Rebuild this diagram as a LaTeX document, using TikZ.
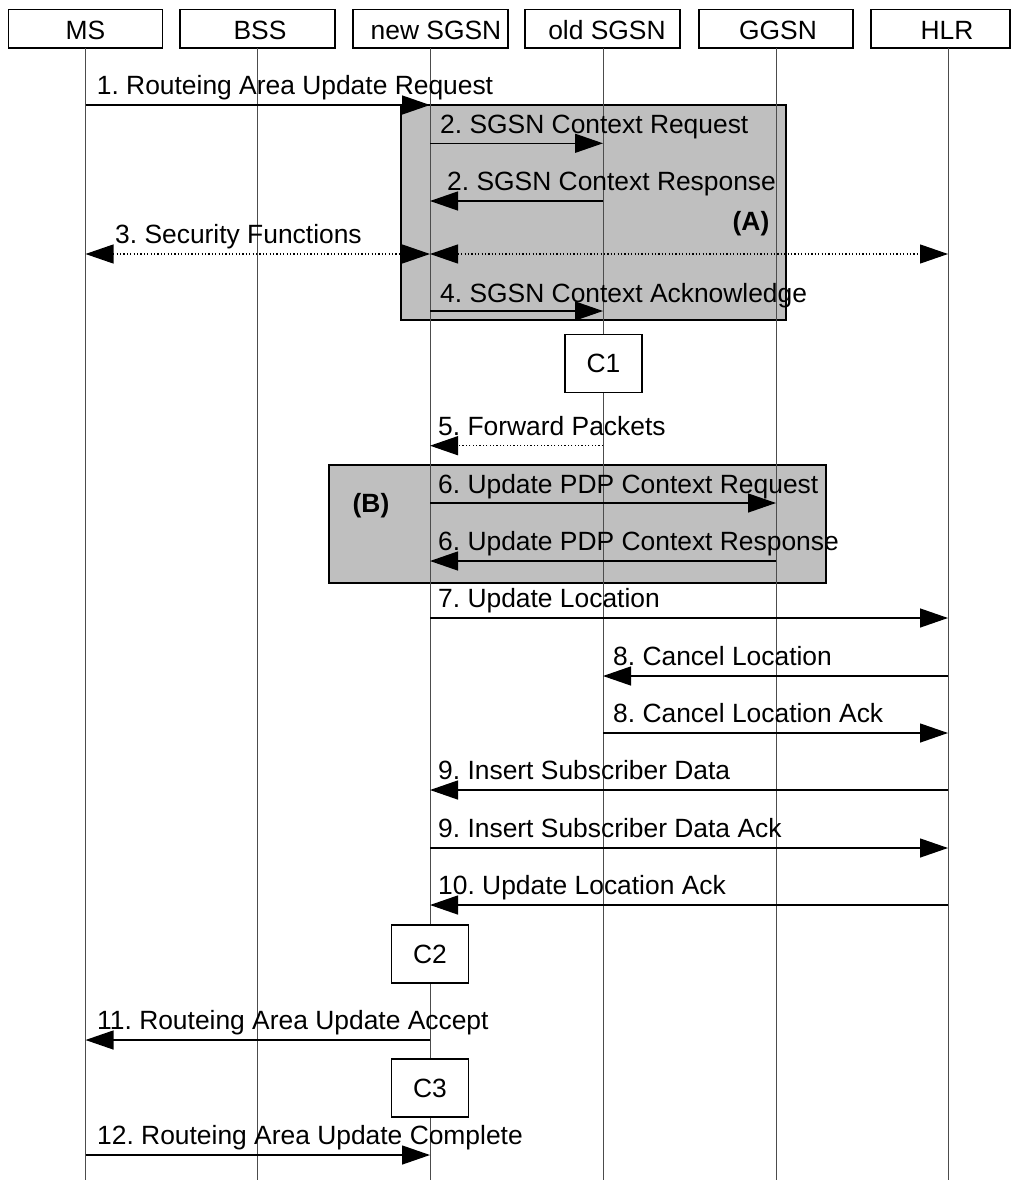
\documentclass[tikz,border=0pt]{standalone}
\usepackage{fontspec}
\setmainfont{Liberation Sans}
\usetikzlibrary{arrows.meta}
\frenchspacing
\newcommand\seqmsg[5]{%
  \draw[#1] (#2 |- 0,#4) -- (#3 |- 0,#4);}
\begin{document}
\begin{tikzpicture}[x=1pt,y=-1pt,
  font=\fontsize{26.4}{30}\selectfont,
  hdr/.style={draw,line width=1.3pt,minimum height=38.7pt,inner sep=0pt},
  hdrtext/.style={anchor=base,inner sep=0pt},
  life/.style={line width=1pt,draw=black!70},
  tip/.tip={Triangle[length=28pt,width=19pt]},
  msgline/.style={line width=1.3pt,-tip},
  dotboth/.style={line width=1.2pt,dash pattern=on 1.2pt off 2.2pt,tip-tip},
  dotone/.style={line width=1.2pt,dash pattern=on 1.2pt off 2.2pt,-tip},
  lbl/.style={anchor=base west,inner sep=0pt},
  grp/.style={draw,line width=1.5pt,fill=black!25,inner sep=0pt},
  cbox/.style={draw,fill=white,line width=1.3pt,minimum width=77pt,minimum height=58pt,inner sep=0pt}
]
\useasboundingbox (0,0) rectangle (1013,1180);
\fill[white] (0,0) rectangle (1013,1180);

% lifeline coordinates
\coordinate (lMS) at (85.5,48);
\coordinate (lBSS) at (257.5,48);
\coordinate (lNEW) at (430,48);
\coordinate (lOLD) at (603,48);
\coordinate (lGG) at (776,48);
\coordinate (lHLR) at (948,48);

% header boxes
\node[hdr,minimum width=154pt] (hMS) at (85.5,28.7) {};
\node[hdr,minimum width=155pt] (hBSS) at (257.5,28.7) {};
\node[hdr,minimum width=155pt] (hNEW) at (430.5,28.7) {};
\node[hdr,minimum width=155pt] (hOLD) at (602.5,28.7) {};
\node[hdr,minimum width=154pt] (hGG) at (776,28.7) {};
\node[hdr,minimum width=139pt] (hHLR) at (940.5,28.7) {};
\node[hdrtext] (tMS) at (85.5,39.3) {MS};
\node[hdrtext] (tBSS) at (260,39.3) {BSS};
\node[hdrtext] (tNEW) at (436,39.3) {new SGSN};
\node[hdrtext] (tOLD) at (607,39.3) {old SGSN};
\node[hdrtext] (tGG) at (778,39.3) {GGSN};
\node[hdrtext] (tHLR) at (947,39.3) {HLR};

% group boxes
\node[grp,minimum width=385pt,minimum height=215pt] (grpA) at (593.5,212.5) {};
\node[grp,minimum width=497pt,minimum height=118pt] (grpB) at (577.5,524) {};
\node[anchor=center,inner sep=0pt,font=\fontsize{26.4}{30}\selectfont\bfseries] (labA) at (751,224) {(A)};
\node[anchor=center,inner sep=0pt,font=\fontsize{26.4}{30}\selectfont\bfseries] (labB) at (371,506) {(B)};

% lifelines
\foreach \l in {lMS,lBSS,lNEW,lOLD,lGG,lHLR}
  \draw[life] (\l) -- (\l |- 0,1180);

% condition boxes
\node[cbox] (C1) at (603.5,363.5) {C1};
\node[cbox] (C2) at (430,954) {C2};
\node[cbox] (C3) at (430,1088) {C3};

% messages
\seqmsg{msgline}{lMS}{lNEW}{105}{}
\node[lbl] (m1) at (96.7,95) {1. Routeing Area Update Request};
\seqmsg{msgline}{lNEW}{lOLD}{143.3}{}
\node[lbl] (m2) at (440,133) {2. SGSN Context Request};
\seqmsg{msgline}{lOLD}{lNEW}{201}{}
\node[lbl] (m2r) at (447,190) {2. SGSN Context Response};
\seqmsg{dotboth}{lMS}{lNEW}{254}{}
\seqmsg{dotboth}{lNEW}{lHLR}{254}{}
\node[lbl] (m3) at (115,243) {3. Security Functions};
\seqmsg{msgline}{lNEW}{lOLD}{311}{}
\node[lbl] (m4) at (440,302) {4. SGSN Context Acknowledge};
\seqmsg{dotone}{lOLD}{lNEW}{445.7}{}
\node[lbl] (m5) at (438,435) {5. Forward Packets};
\seqmsg{msgline}{lNEW}{lGG}{503}{}
\node[lbl] (m6) at (438,493) {6. Update PDP Context Request};
\seqmsg{msgline}{lGG}{lNEW}{561}{}
\node[lbl] (m6r) at (438,550) {6. Update PDP Context Response};
\seqmsg{msgline}{lNEW}{lHLR}{618}{}
\node[lbl] (m7) at (438,607) {7. Update Location};
\seqmsg{msgline}{lHLR}{lOLD}{676}{}
\node[lbl] (m8) at (613,665) {8. Cancel Location};
\seqmsg{msgline}{lOLD}{lHLR}{733}{}
\node[lbl] (m8a) at (613,722) {8. Cancel Location Ack};
\seqmsg{msgline}{lHLR}{lNEW}{790}{}
\node[lbl] (m9) at (438,779) {9. Insert Subscriber Data};
\seqmsg{msgline}{lNEW}{lHLR}{848}{}
\node[lbl] (m9a) at (438,837) {9. Insert Subscriber Data Ack};
\seqmsg{msgline}{lHLR}{lNEW}{905}{}
\node[lbl] (m10) at (438,894) {10. Update Location Ack};
\seqmsg{msgline}{lNEW}{lMS}{1040}{}
\node[lbl] (m11) at (97,1029) {11. Routeing Area Update Accept};
\seqmsg{msgline}{lMS}{lNEW}{1155}{}
\node[lbl] (m12) at (97,1144) {12. Routeing Area Update Complete};
\end{tikzpicture}
\end{document}
